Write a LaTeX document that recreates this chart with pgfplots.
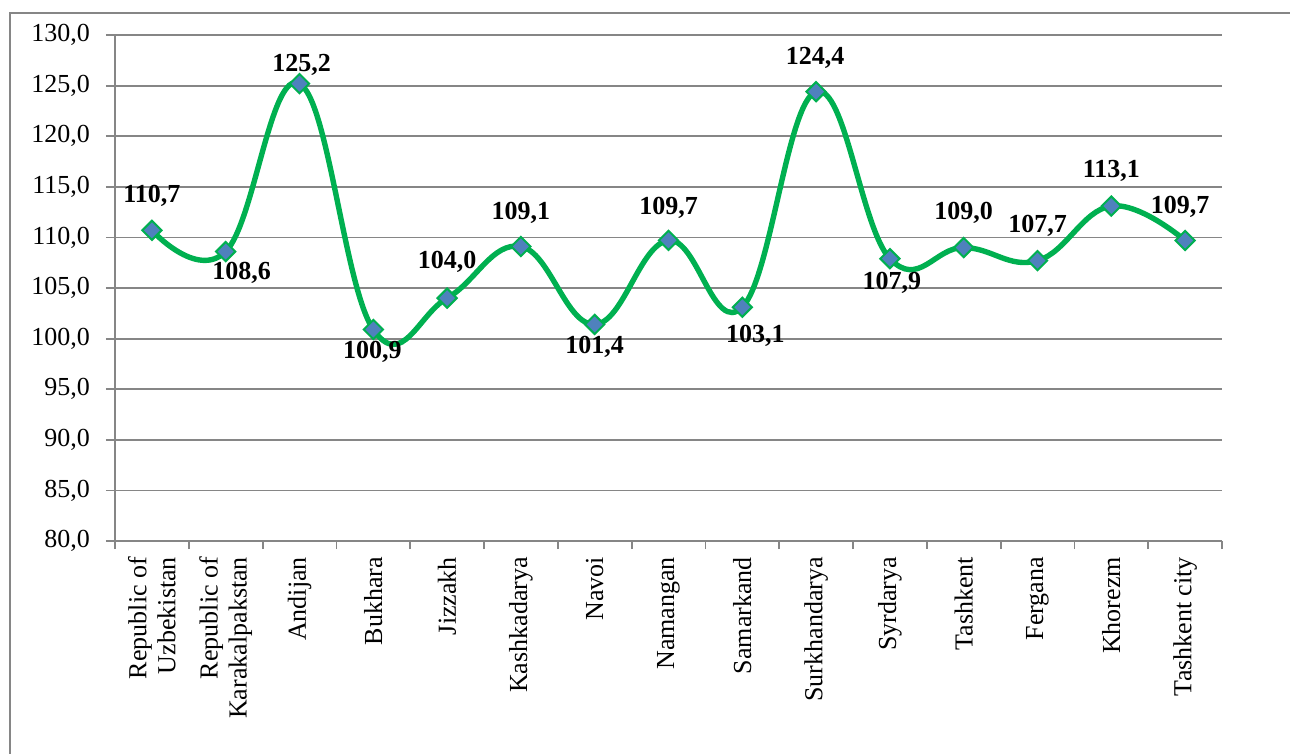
\documentclass[border=0pt]{standalone}
\usepackage{fontspec}
\setmainfont{Liberation Serif}
\usepackage{pgfplots}
\usepackage{pgfplotstable}
\pgfplotsset{compat=1.18}

\definecolor{gridgray}{RGB}{134,134,134}
\definecolor{linegreen}{RGB}{0,176,80}
\definecolor{markblue}{RGB}{79,129,189}

% x, value, label shift (pt)
\pgfplotstableread{
x  y      dx    dy
0  110.7  0     17
1  108.6  8     -10.5
2  125.2  1     9.5
3  100.9  -0.5  -11
4  104.0  0     18
5  109.1  0     17
6  101.4  0     -11
7  109.7  0     16.5
8  103.1  6.5   -14.5
9  124.4  -0.5  17
10 107.9  1     -12
11 109.0  0     17.5
12 107.7  0     17.5
13 113.1  0     17.5
14 109.7  -2.5  17
}\growth

\begin{document}
\begin{tikzpicture}
\path[use as bounding box] (0,0) rectangle (645pt,-377pt);
\draw[gridgray, line width=0.9pt] (5pt,-380pt) -- (5pt,-6.5pt) -- (650pt,-6.5pt);
\begin{axis}[
    at={(57.5pt,-270.5pt)}, anchor=south west,
    scale only axis,
    width=553.5pt, height=253pt,
    xmin=-0.5, xmax=14.5,
    ymin=80, ymax=130,
    ytick={80,85,...,130},
    xtick={0,...,14},
    xticklabels={{Republic of\\Uzbekistan},{Republic of\\Karakalpakstan},Andijan,Bukhara,Jizzakh,Kashkadarya,Navoi,Namangan,Samarkand,Surkhandarya,Syrdarya,Tashkent,Fergana,Khorezm,Tashkent city},
    minor xtick={-0.5,0.5,...,14.5},
    axis x line*=bottom, axis y line*=left,
    axis line style={gridgray, line width=0.9pt, -},
    tick align=outside,
    major x tick style={draw=none},
    minor tick length=4pt,
    major tick length=4.5pt,
    every tick/.style={gridgray, line width=0.9pt},
    ymajorgrids,
    grid style={gridgray, line width=0.9pt},
    tick label style={font=\fontsize{13}{14.5}\selectfont, black},
    xticklabel style={rotate=90, anchor=east, align=right, yshift=0pt},
    yticklabel style={xshift=-4.5pt, /pgf/number format/.cd, fixed, fixed zerofill, precision=1, use comma, assume math mode=true},
    clip=false,
]
\addplot[
    linegreen, line width=2.7pt, smooth, tension=0.7,
    mark=square*, mark size=3.4pt,
    mark options={rotate=45, fill=markblue, draw=linegreen, line width=1pt},
    nodes near coords={\pgfmathprintnumber[fixed,fixed zerofill,precision=1,use comma,assume math mode=true]{\pgfplotspointmeta}},
    point meta=explicit,
    visualization depends on={\thisrow{dx} \as \ldx},
    visualization depends on={\thisrow{dy} \as \ldy},
    every node near coord/.append style={anchor=center, xshift=\ldx pt, yshift=\ldy pt,
        font=\fontsize{13}{14.5}\selectfont\bfseries, black, inner sep=0pt, rotate=0},
] table[x=x, y=y, meta=y] {\growth};
\end{axis}
\end{tikzpicture}
\end{document}
